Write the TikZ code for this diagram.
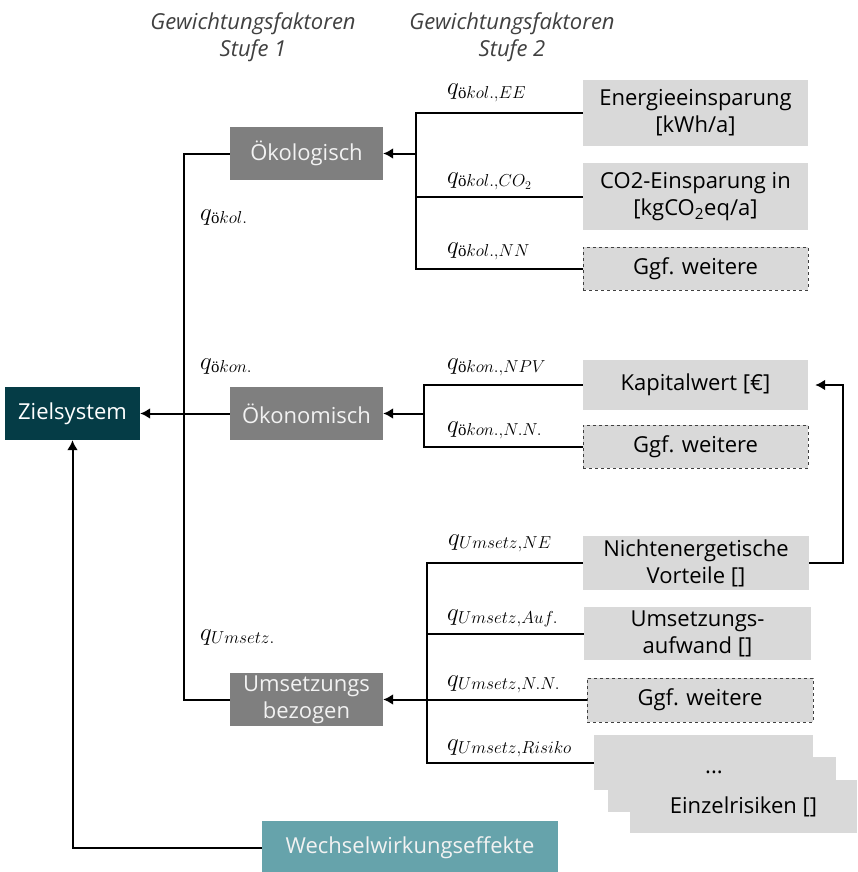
\documentclass[tikz,border=0pt]{standalone}
\usepackage{fontspec}
\usepackage{amsmath}
\setmainfont{Open Sans}
\newfontfamily\qserif{Liberation Serif}
\usetikzlibrary{arrows.meta}

\definecolor{zielteal}{HTML}{053C46}
\definecolor{wwteal}{HTML}{66A3AB}
\definecolor{catgrey}{HTML}{7F7F7F}
\definecolor{leafgrey}{HTML}{D9D9D9}
\definecolor{headgrey}{HTML}{404040}
\definecolor{lightwhite}{HTML}{F2F2F2}

% upright o-umlaut inside the weighting factor indices
\newcommand{\umlo}{\text{\qserif ö}}

\begin{document}
\begin{tikzpicture}[x=1pt,y=-1pt,
  every node/.style={font=\fontsize{22}{27}\selectfont},
  catbox/.style={rectangle, inner sep=0pt, align=center, fill=catgrey,
    text=lightwhite, minimum width=153pt, minimum height=53pt},
  leaf/.style={rectangle, inner sep=0pt, align=center, fill=leafgrey,
    text=black, minimum width=225pt},
  dashleaf/.style={leaf, draw=headgrey, dashed, line width=0.9pt},
  weight/.style={anchor=base west, inner sep=0pt, font=\fontsize{24}{28}\selectfont},
  heading/.style={align=center, text=headgrey, font=\fontsize{22}{27}\selectfont\itshape},
  conn/.style={line width=2pt},
  arr/.style={conn, -{Latex[length=10pt,width=11pt]}}]

\useasboundingbox (0,0) rectangle (857,872);

% column headings
\node[heading] (h1) at (253,37) {Gewichtungsfaktoren\\Stufe 1};
\node[heading] (h2) at (512,37) {Gewichtungsfaktoren\\Stufe 2};

% goal and interaction effects
\node[rectangle, fill=zielteal, text=white, minimum width=135pt, minimum height=53pt, inner sep=0pt]
  (ziel) at (72.5,413.5) {Zielsystem};
\node[rectangle, fill=wwteal, text=lightwhite, minimum width=296pt, minimum height=54pt, inner sep=0pt]
  (ww) at (410,848) {Wechselwirkungseffekte};

% first level categories
\node[catbox] (oekol) at (306.5,153.5) {Ökologisch};
\node[catbox] (oekon) at (306.5,413.5) {Ökonomisch};
\node[catbox] (ums)   at (306.5,699.5) {Umsetzungs\\bezogen};

% second level criteria
\node[leaf, minimum height=66pt] (energie) at (695.5,113) {Energieeinsparung\\{}[kWh/a]};
\node[leaf, minimum height=67pt] (co2) at (695.5,196.5) {CO2-Einsparung in\\{}[kgCO\textsubscript{2}eq/a]};
\node[dashleaf, minimum height=43pt] (weiter1) at (695.5,268.5) {Ggf. weitere};

\node[leaf, minimum height=50pt] (kapital) at (695.5,385) {Kapitalwert [€]};
\node[dashleaf, minimum height=43pt] (weiter2) at (695.5,446.5) {Ggf. weitere};

\node[leaf, minimum width=226pt, minimum height=54pt] (nichtenerg) at (696,563) {Nichtenergetische\\Vorteile []};
\node[leaf, minimum width=227pt, minimum height=53pt] (aufwand) at (697.5,633.5) {Umsetzungs-\\aufwand []};
\node[dashleaf, minimum width=226pt, minimum height=44pt] (weiter3) at (700,700) {Ggf. weitere};

% stack of individual risks
\node[leaf, minimum width=219pt, minimum height=55pt] (risk1) at (703.5,762.5) {};
\node[leaf, minimum width=228pt, minimum height=55pt] (risk2) at (722,784.5) {};
\node[leaf, minimum width=227pt, minimum height=53pt] (risk3) at (743.5,806.5) {Einzelrisiken []};
\node[inner sep=0pt] (dots) at (714,772) {...};

% junctions of the bracket lines
\coordinate (jl) at (184,413.5);
\coordinate (ja) at (416,153.5);
\coordinate (jb) at (424,413.5);
\coordinate (jc) at (427,699.5);

% first level connectors
\draw[conn] (oekol.west) -| (jl);
\draw[conn] (ums.west) -| (jl);
\draw[arr] (oekon.west) -- (ziel.east);
\draw[arr] (ww.west) -| (ziel.south);

% ecological criteria
\draw[conn] (energie.west) -| (ja);
\draw[conn] (weiter1.west) -| (ja);
\draw[conn] (co2.west) -- (co2.west -| ja);
\draw[arr] (ja) -- (oekol.east);

% economic criteria
\draw[conn] (kapital.west) -| (jb);
\draw[conn] (weiter2.west) -| (jb);
\draw[arr] (jb) -- (oekon.east);

% implementation criteria
\draw[conn] (nichtenerg.west) -| (jc);
\draw[conn] (risk1.west) -| (jc);
\draw[conn] (aufwand.west) -- (aufwand.west -| jc);
\draw[conn] (weiter3.west) -- (weiter3.west -| jc);
\draw[arr] (jc) -- (ums.east);

% feedback of non-energetic benefits into the net present value
\coordinate (fb) at (843,474);
\draw[arr, shorten >=7pt] (nichtenerg.east) -| (fb) |- (kapital.east);

% weighting factors
\node[weight] (q1) at (200,220) {$q_{\umlo kol.}$};
\node[weight] (q2) at (200,369) {$q_{\umlo kon.}$};
\node[weight] (q3) at (200,640) {$q_{Umsetz.}$};

\node[weight] (q11) at (447,95)  {$q_{\umlo kol.,EE}$};
\node[weight] (q12) at (447,183) {$q_{\umlo kol.,CO_2}$};
\node[weight] (q13) at (447,253) {$q_{\umlo kol.,NN}$};

\node[weight] (q21) at (447,369) {$q_{\umlo kon.,NPV}$};
\node[weight] (q22) at (447,432) {$q_{\umlo kon.,N.N.}$};

\node[weight] (q31) at (448,545) {$q_{Umsetz,NE}$};
\node[weight] (q32) at (447,620) {$q_{Umsetz,Auf.}$};
\node[weight] (q33) at (447,686) {$q_{Umsetz,N.N.}$};
\node[weight] (q34) at (447,750) {$q_{Umsetz,Risiko}$};
\end{tikzpicture}
\end{document}
